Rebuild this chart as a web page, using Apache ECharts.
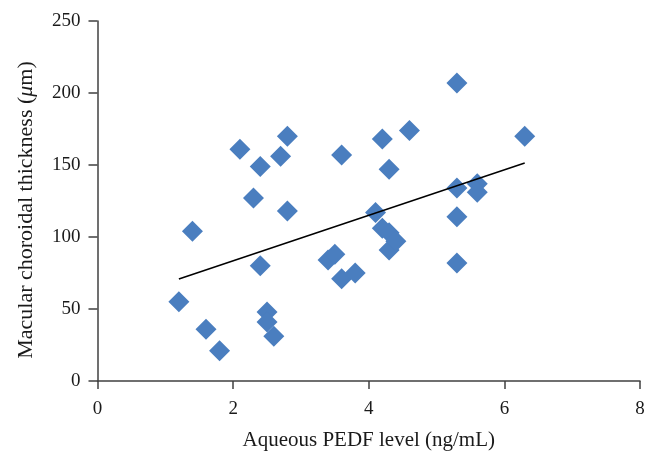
<!DOCTYPE html>
<html>
<head>
<meta charset="utf-8">
<script src="https://cdn.jsdelivr.net/npm/echarts@6/dist/echarts.min.js"></script>
<style>html,body{margin:0;padding:0;background:#fff;}#c{width:658px;height:466px;}</style>
</head>
<body>
<div id="c"></div>
<script>
var pedf = [1.2, 1.4, 1.6, 1.8, 2.1, 2.3, 2.4, 2.4, 2.5, 2.5, 2.6, 2.7, 2.8, 2.8,
            3.4, 3.5, 3.6, 3.6, 3.8, 4.1, 4.2, 4.2, 4.3, 4.3, 4.3, 4.4, 4.6,
            5.3, 5.3, 5.3, 5.3, 5.6, 5.6, 6.3];
var thickness = [55, 104, 36, 21, 161, 127, 149, 80, 48, 41, 31, 156, 170, 118,
                 84, 88, 71, 157, 75, 117, 168, 106, 147, 103, 91, 97, 174,
                 207, 134, 114, 82, 137, 131, 170];
var trendX = [1.2, 6.3];
var trendY = [70.8, 151.4];
var xTicks = [0, 2, 4, 6, 8];
var yTicks = [0, 50, 100, 150, 200, 250];

var pts = pedf.map(function (x, i) { return [x, thickness[i]]; });
var trend = trendX.map(function (x, i) { return [x, trendY[i]]; });
var font = "'Liberation Serif', 'DejaVu Serif', serif";
var axisCol = '#404040';
var txtCol = '#1a1a1a';

var chart = echarts.init(document.getElementById('c'), null, {renderer: 'canvas'});
chart.setOption({
  animation: false,
  backgroundColor: '#ffffff',
  grid: {left: 97.5, right: 18, top: 21, bottom: 85},
  xAxis: {
    type: 'value', min: xTicks[0], max: xTicks[xTicks.length - 1], interval: 2,
    name: 'Aqueous PEDF level (ng/mL)', nameLocation: 'middle', nameGap: 49,
    nameTextStyle: {fontFamily: font, fontSize: 21, color: txtCol},
    axisLine: {lineStyle: {color: axisCol, width: 1.5}},
    axisTick: {show: true, length: 8, lineStyle: {color: axisCol, width: 1.5}},
    axisLabel: {fontFamily: font, fontSize: 19, color: txtCol, margin: 19},
    splitLine: {show: false}
  },
  yAxis: {
    type: 'value', min: yTicks[0], max: yTicks[yTicks.length - 1], interval: 50,
    axisLine: {show: true, lineStyle: {color: axisCol, width: 1.5}},
    axisTick: {show: true, length: 9, lineStyle: {color: axisCol, width: 1.5}},
    axisLabel: {fontFamily: font, fontSize: 19, color: txtCol, margin: 17},
    splitLine: {show: false}
  },
  graphic: [{
    type: 'text', x: 26, y: 210, rotation: Math.PI / 2,
    style: {
      text: 'Macular choroidal thickness ({i|\u03bc}m)',
      fontFamily: font, fontSize: 22, fill: txtCol,
      align: 'center', verticalAlign: 'middle',
      rich: {i: {fontFamily: font, fontSize: 22, fontStyle: 'italic', fill: txtCol, color: txtCol}}
    }
  }],
  series: [
    {
      type: 'scatter', data: pts, symbol: 'diamond', symbolSize: 21,
      itemStyle: {color: '#4a7ebf', opacity: 1}, z: 2
    },
    {
      type: 'line', data: trend, symbol: 'none',
      lineStyle: {color: '#000', width: 1.5}, z: 3
    }
  ]
});
</script>
</body>
</html>
